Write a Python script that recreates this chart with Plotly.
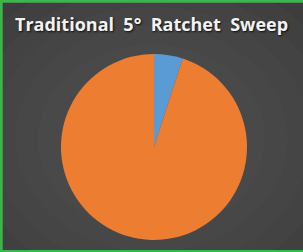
import plotly.graph_objects as go

labels = ["Segment A", "Segment B"]
values = [5, 95]
colors = ["#5B9BD5", "#ED7D31"]
title_text = "Traditional&nbsp; 5°&nbsp; Ratchet&nbsp; Sweep"

W, H = 303, 252
fig = go.Figure()
fig.add_trace(go.Pie(
    labels=labels, values=values, sort=False, direction="clockwise", rotation=0,
    marker=dict(colors=colors, line=dict(width=0)),
    textinfo="none", hoverinfo="label+percent", showlegend=False,
    domain=dict(x=[(154 - 93) / W, (154 + 93) / W], y=[12 / H, 198 / H]),
))

shapes = []
# radial-ish gradient approximation
n = 10
for i in range(n):
    f = 1 - i / n
    shapes.append(dict(type="circle", xref="paper", yref="paper", layer="below",
                       x0=0.5 - 0.75 * f, x1=0.5 + 0.75 * f, y0=0.45 - 0.75 * f, y1=0.45 + 0.75 * f,
                       fillcolor="rgba(92,92,92,0.11)", line=dict(width=0)))
# green border (left, top, bottom)
shapes += [
    dict(type="line", xref="paper", yref="paper", x0=0.004, x1=0.004, y0=0, y1=1, line=dict(color="#3DB54A", width=3)),
    dict(type="line", xref="paper", yref="paper", x0=0, x1=1, y0=0.995, y1=0.995, line=dict(color="#3DB54A", width=3)),
    dict(type="line", xref="paper", yref="paper", x0=0, x1=1, y0=0.004, y1=0.004, line=dict(color="#3DB54A", width=2)),
]

fig.update_layout(
    width=W, height=H, margin=dict(l=0, r=0, t=0, b=0),
    paper_bgcolor="#3A3A3A", plot_bgcolor="#3A3A3A",
    shapes=shapes,
    annotations=[dict(text="<b>" + title_text + "</b>", x=0.5, y=1 - 24 / H, xref="paper", yref="paper",
                      showarrow=False, xanchor="center", yanchor="middle",
                      font=dict(family="Open Sans", size=18, color="#F2F2F2",
                                shadow="1px 1px 2px rgba(0,0,0,0.8)"))],
)
fig.write_html("out.html", config={"displayModeBar": False},
               post_script="document.body.style.margin='0';document.body.style.overflow='hidden';")
